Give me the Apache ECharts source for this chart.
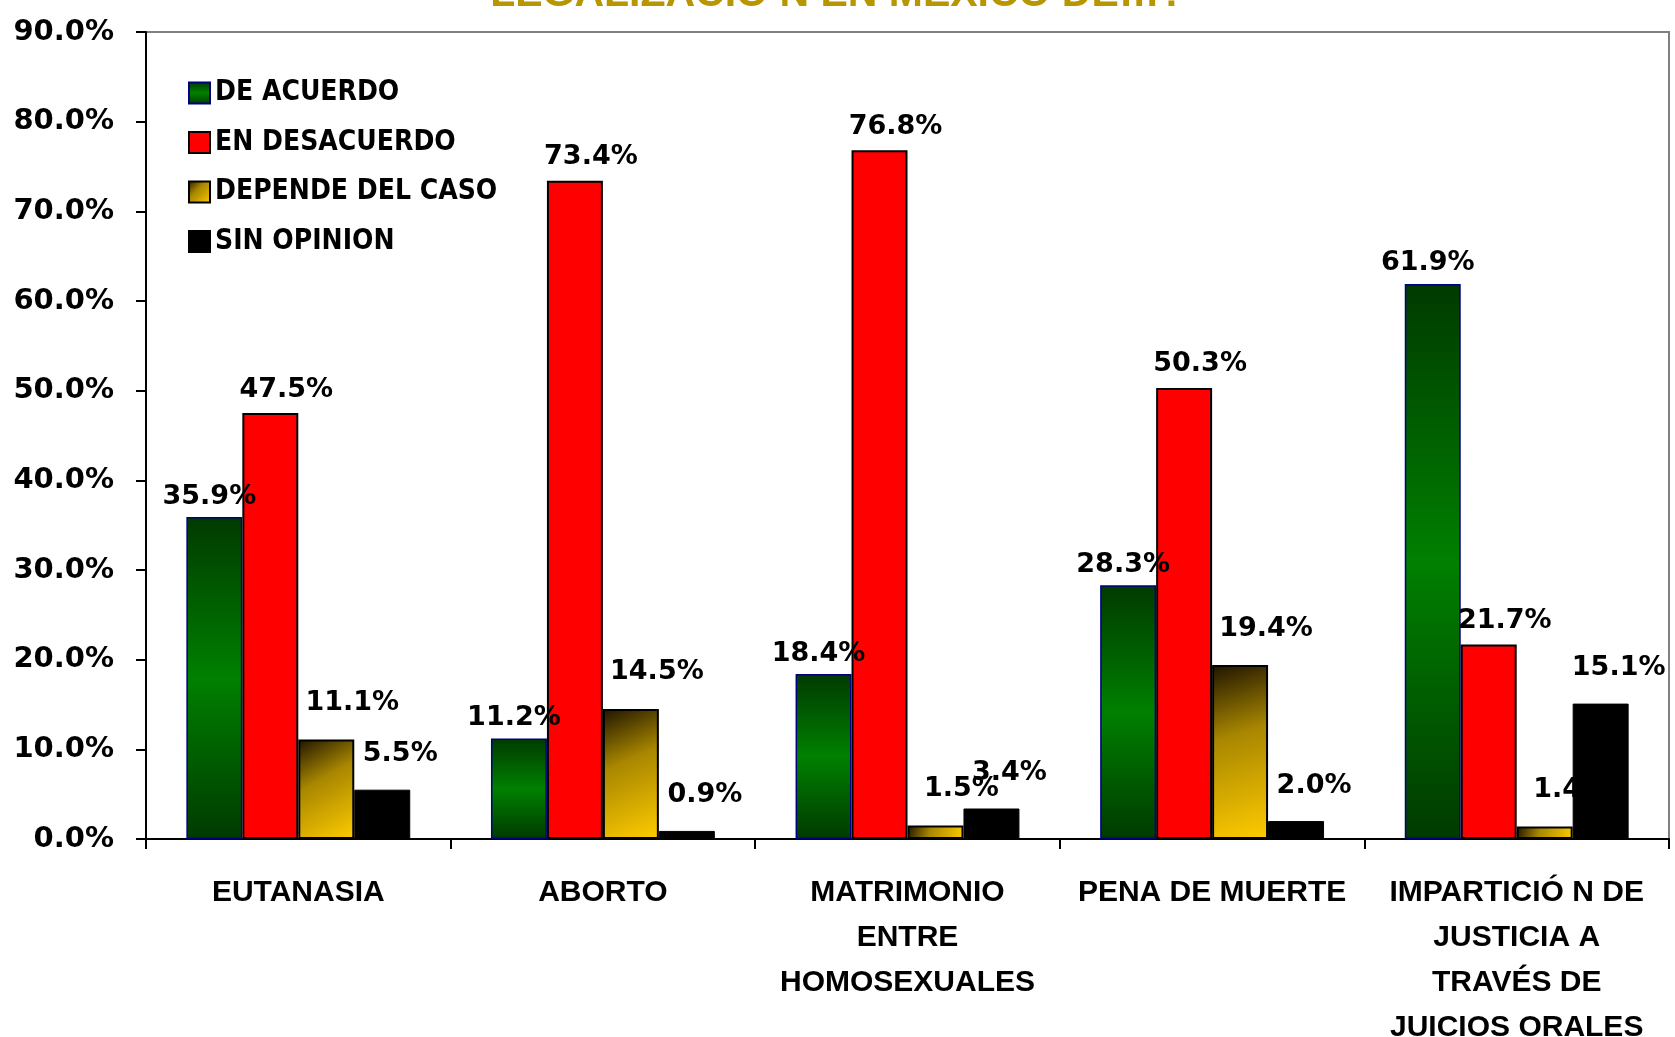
<!DOCTYPE html>
<html>
<head>
<meta charset="utf-8">
<script src="https://cdn.jsdelivr.net/npm/echarts@6/dist/echarts.min.js"></script>
<style>
  html, body { margin: 0; padding: 0; background: #ffffff; }
  #chart { width: 1675px; height: 1037px; }
</style>
</head>
<body>
<div id="chart"></div>
<script>
const categories = [
  'EUTANASIA',
  'ABORTO',
  'MATRIMONIO\nENTRE\nHOMOSEXUALES',
  'PENA DE MUERTE',
  'IMPARTICIÓ N DE\nJUSTICIA A\nTRAVÉS DE\nJUICIOS ORALES',
]
const seriesNames = ['DE ACUERDO', 'EN DESACUERDO', 'DEPENDE DEL CASO', 'SIN OPINION']
const deAcuerdo = [35.9, 11.2, 18.4, 28.3, 61.9]
const enDesacuerdo = [47.5, 73.4, 76.8, 50.3, 21.7]
const dependeCaso = [11.1, 14.5, 1.5, 19.4, 1.4]
const sinOpinion = [5.5, 0.9, 3.4, 2.0, 15.1]
const yTicks = [0, 10, 20, 30, 40, 50, 60, 70, 80, 90]

const chart = echarts.init(document.getElementById('chart'))

const greenFill = new echarts.graphic.LinearGradient(0, 0, 0, 1, [
  { offset: 0, color: '#003a00' },
  { offset: 0.5, color: '#008000' },
  { offset: 1, color: '#003a00' },
])
const goldFill = new echarts.graphic.LinearGradient(0, 0, 1, 1, [
  { offset: 0, color: '#1e1400' },
  { offset: 0.4, color: '#a88600' },
  { offset: 1, color: '#ffcc00' },
])

const labelStyle = (offset) => ({
  show: true,
  position: 'top',
  offset: offset,
  color: '#000000',
  fontFamily: 'DejaVu Sans',
  fontWeight: 'bold',
  fontSize: 27,
  formatter: (p) => p.value.toFixed(1) + '%',
})

const makeSeries = (name, data, itemStyle, offset) => ({
  name: name,
  type: 'bar',
  data: data,
  barGap: '0%',
  barCategoryGap: '26.5%',
  itemStyle: itemStyle,
  label: labelStyle(offset),
  emphasis: { disabled: true },
})

const option = {
  backgroundColor: '#ffffff',
  animation: false,
  graphic: [
    {
      type: 'text',
      left: 'center',
      top: -26,
      style: {
        text: 'LEGALIZACIÓ N EN MÉXICO DE…?',
        fill: '#b89600',
        font: 'bold 41px "Liberation Sans Narrow", "Liberation Sans", sans-serif',
      },
    },
  ],
  grid: {
    left: 146,
    right: 6,
    top: 32,
    bottom: 198,
    show: true,
    borderColor: '#808080',
    borderWidth: 2,
    containLabel: false,
    outerBoundsMode: 'none',
  },
  legend: {
    orient: 'vertical',
    left: 183,
    top: 74,
    itemWidth: 21,
    itemHeight: 21,
    itemGap: 21.5,
    itemTextGap: 9,
    icon: 'rect',
    data: seriesNames,
    textStyle: {
      color: '#000000',
      fontFamily: '"DejaVu Sans Condensed", "DejaVu Sans", sans-serif',
      fontWeight: 'bold',
      fontSize: 28,
      lineHeight: 27,
    },
  },
  xAxis: {
    type: 'category',
    data: categories,
    axisLine: { lineStyle: { color: '#000000', width: 2 } },
    axisTick: { show: true, length: 10, lineStyle: { color: '#000000', width: 2 } },
    axisLabel: {
      interval: 0,
      margin: 31,
      color: '#000000',
      fontFamily: '"Liberation Sans", Arial, sans-serif',
      fontWeight: 'bold',
      fontSize: 30,
      lineHeight: 45,
    },
    splitLine: { show: false },
  },
  yAxis: {
    type: 'value',
    min: yTicks[0],
    max: yTicks[yTicks.length - 1],
    interval: 10,
    axisLine: { show: true, lineStyle: { color: '#000000', width: 2 } },
    axisTick: { show: true, length: 10, lineStyle: { color: '#000000', width: 2 } },
    axisLabel: {
      margin: 32,
      color: '#000000',
      fontFamily: 'DejaVu Sans',
      fontWeight: 'bold',
      fontSize: 29,
      formatter: (v) => v.toFixed(1) + '%',
    },
    splitLine: { show: false },
  },
  series: [
    makeSeries(seriesNames[0], deAcuerdo, { color: greenFill, borderColor: '#000080', borderWidth: 1.5 }, [-5, -2]),
    makeSeries(seriesNames[1], enDesacuerdo, { color: '#ff0000', borderColor: '#000000', borderWidth: 2 }, [16, -5]),
    makeSeries(seriesNames[2], dependeCaso, { color: goldFill, borderColor: '#000000', borderWidth: 2 }, [26, -18]),
    makeSeries(seriesNames[3], sinOpinion, { color: '#000000', borderColor: '#000000', borderWidth: 1 }, [18, -17]),
  ],
}

chart.setOption(option)
</script>
</body>
</html>
